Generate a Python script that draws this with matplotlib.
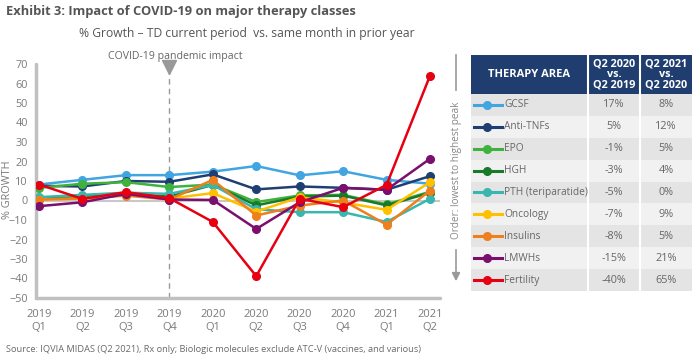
import matplotlib
matplotlib.use("Agg")
import matplotlib.pyplot as plt
from matplotlib.lines import Line2D
from matplotlib.patches import Rectangle, FancyArrowPatch

plt.rcParams['font.family'] = ['Open Sans', 'DejaVu Sans']

quarters = ["2019\nQ1", "2019\nQ2", "2019\nQ3", "2019\nQ4", "2020\nQ1",
            "2020\nQ2", "2020\nQ3", "2020\nQ4", "2021\nQ1", "2021\nQ2"]

names = ["GCSF", "Anti-TNFs", "EPO", "HGH", "PTH (teriparatide)",
         "Oncology", "Insulins", "LMWHs", "Fertility"]
colors = ["#41a5e1", "#1f3f73", "#3db33d", "#1a7a2a", "#38b6b0",
          "#ffc000", "#ee7f1b", "#7b0f6e", "#e60012"]

gcsf = [8.2, 10.6, 13, 13, 14.8, 17.7, 12.9, 15, 10.6, 8.6]
anti_tnfs = [7.5, 7.2, 10, 9.6, 13.4, 5.7, 7.2, 6.5, 5.5, 12.5]
epo = [6.5, 8.6, 9.4, 6.9, 8.2, -0.8, 2.6, 2.9, -2, 4.5]
hgh = [1.5, 2, 3.5, 2, 8, -2.5, 2, 2.5, -2.5, 4]
pth = [1.7, 2.9, 4, 3.4, 8, -4.5, -6, -6, -11, 0.9]
oncology = [0.5, 1, 3, 1, 3.8, -5.7, 1.7, -1, -4.8, 9.4]
insulins = [0.5, 1, 2.5, 0.5, 10.6, -7.7, -2.6, 0, -12.4, 5.1]
lmwhs = [-2.9, -0.9, 3.4, 0.5, 0.3, -14.6, -0.9, 6.5, 5.5, 21.4]
fertility = [8.2, 0.8, 4.3, 1.2, -11, -38.8, 0.9, -3.4, 8, 64]
series = [gcsf, anti_tnfs, epo, hgh, pth, oncology, insulins, lmwhs, fertility]

q2_2020 = ["17%", "5%", "-1%", "-3%", "-5%", "-7%", "-8%", "-15%", "-40%"]
q2_2021 = ["8%", "12%", "5%", "4%", "0%", "9%", "5%", "21%", "65%"]

yticks = list(range(-50, 71, 10))

W, H = 700, 362
fig = plt.figure(figsize=(7, 3.62), dpi=100)

def fx(px):
    return px / W

def fy(py):
    return 1 - py / H

ax = fig.add_axes([fx(36), fy(298), fx(440) - fx(36), fy(64) - fy(298)])
x = list(range(len(quarters)))
ax.axhline(0, color="#c8c8c8", lw=1.5, zorder=1)
ax.axvline(3, color="#999999", lw=1.0, ls=(0, (4, 3)), zorder=1)
for s, c in zip(series, colors):
    ax.plot(x, s, color=c, lw=1.8, marker="o", ms=5.5, zorder=3)

ax.set_xlim(-0.07, 9.23)
ax.set_ylim(-50, 70)
ax.set_yticks(yticks)
ax.set_xticks(x)
ax.set_xticklabels(quarters)
ax.tick_params(length=0, labelsize=7.8, colors="#7a7a7a", pad=6)
ax.tick_params(axis="x", labelsize=8, pad=8)
for sp in ["top", "right"]:
    ax.spines[sp].set_visible(False)
for sp in ["left", "bottom"]:
    ax.spines[sp].set_color("#c0c0c0")
    ax.spines[sp].set_linewidth(2.5)
    ax.spines[sp].set_capstyle("round")

fig.text(fx(8), fy(190), "% GROWTH", rotation=90, ha="center", va="center",
         fontsize=7.8, color="#7a7a7a")

# triangle at top of dashed line
ax.plot([3], [68.5], marker="v", ms=10, color="#999999", clip_on=False, zorder=4)
fig.text(fx(175), fy(57), "COVID-19 pandemic impact", ha="center", va="center",
         fontsize=7.6, color="#666666")

fig.text(fx(6), fy(12), "Exhibit 3: Impact of COVID-19 on major therapy classes",
         ha="left", va="center", fontsize=9.3, fontweight="bold", color="#555555")
fig.text(fx(247), fy(34), "% Growth \u2013 TD current period  vs. same month in prior year",
         ha="center", va="center", fontsize=8.7, color="#555555")
fig.text(fx(6), fy(350), "Source: IQVIA MIDAS (Q2 2021), Rx only; Biologic molecules exclude ATC-V (vaccines, and various)",
         ha="left", va="center", fontsize=6.7, color="#6a6a6a")

# order arrow
fig.add_artist(Line2D([fx(456), fx(456)], [fy(55), fy(90)], color="#999999", lw=1.2))
fig.add_artist(FancyArrowPatch((fx(456), fy(247)), (fx(456), fy(284)),
                               transform=fig.transFigure, arrowstyle="-|>",
                               mutation_scale=12, color="#999999", lw=1.2))
fig.text(fx(456), fy(170), "Order: lowest to highest peak", rotation=90,
         ha="center", va="center", fontsize=7.2, color="#888888")

# table
tl, c1, c2, tr = 471, 588, 640, 692
ht, hb = 55, 94
rh = (291 - 94) / 9
navy = "#1f3d6e"
fig.add_artist(Rectangle((fx(tl), fy(hb)), fx(tr) - fx(tl), fy(ht) - fy(hb),
                         transform=fig.transFigure, color=navy, lw=0))
fig.text(fx((tl + c1) / 2), fy((ht + hb) / 2), "THERAPY AREA", ha="center", va="center",
         fontsize=8, fontweight="bold", color="white")
fig.text(fx((c1 + c2) / 2), fy((ht + hb) / 2), "Q2 2020\nvs.\nQ2 2019", ha="center",
         va="center", fontsize=7.8, fontweight="bold", color="white", linespacing=0.95)
fig.text(fx((c2 + tr) / 2), fy((ht + hb) / 2), "Q2 2021\nvs.\nQ2 2020", ha="center",
         va="center", fontsize=7.8, fontweight="bold", color="white", linespacing=0.95)

for i, (n, c, a, b) in enumerate(zip(names, colors, q2_2020, q2_2021)):
    top = hb + i * rh
    bg = "#e4e4e4" if i % 2 == 0 else "#f1f1f1"
    fig.add_artist(Rectangle((fx(tl), fy(top + rh)), fx(tr) - fx(tl), fy(top) - fy(top + rh),
                             transform=fig.transFigure, color=bg, lw=0))
    cy = fy(top + rh / 2)
    fig.add_artist(Line2D([fx(474), fx(502)], [cy, cy], color=c, lw=2.2))
    fig.add_artist(Line2D([fx(487)], [cy], color=c, marker="o", ms=5.5))
    fig.text(fx(504), cy, n, ha="left", va="center", fontsize=7.3, color="#666666")
    fig.text(fx((c1 + c2) / 2), cy, a, ha="center", va="center", fontsize=7.8, color="#666666")
    fig.text(fx((c2 + tr) / 2), cy, b, ha="center", va="center", fontsize=7.8, color="#666666")

for cx in (c1, c2):
    fig.add_artist(Line2D([fx(cx), fx(cx)], [fy(ht), fy(291)], color="white", lw=1.5))

fig.savefig("out.png", dpi=100)
